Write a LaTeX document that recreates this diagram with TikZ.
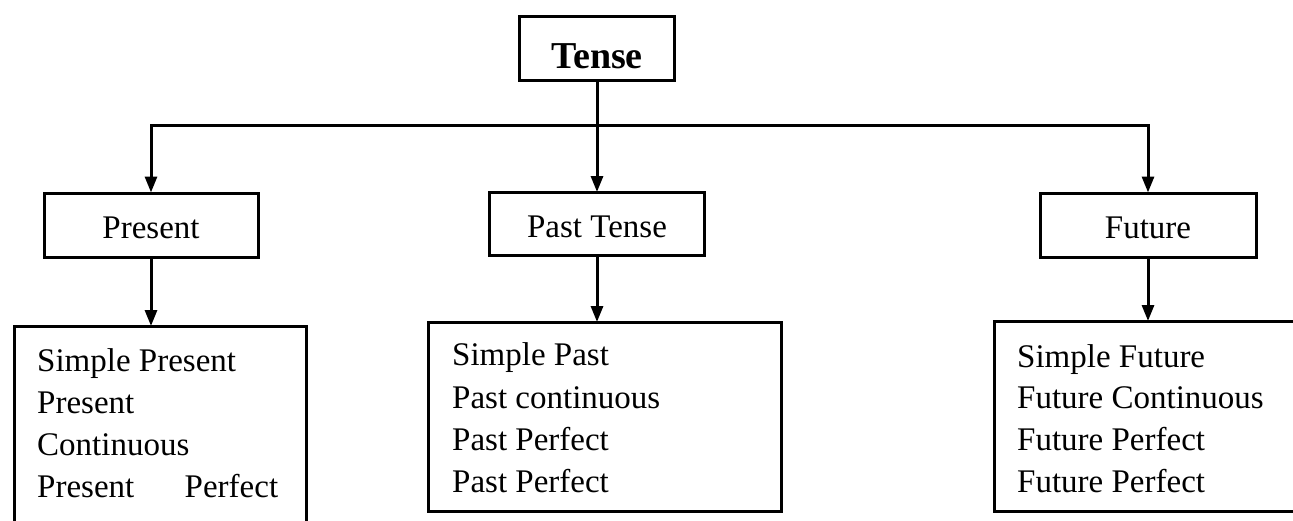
\documentclass[tikz,border=0pt]{standalone}
\usepackage{fontspec}
\setmainfont{Liberation Serif}
\usetikzlibrary{arrows.meta}

\tikzset{
  line/.style={line width=3pt},
  arr/.style={line, -{Triangle[length=16pt,width=12pt]}, shorten >=-1pt},
  box/.style={draw, line width=3pt, rectangle, inner sep=0pt, fill=none},
  label/.style={box, text height=26pt, text depth=0pt, font=\fontsize{33}{38}\selectfont},
  item/.style={anchor=base west, inner sep=0pt, font=\fontsize{33}{38}\selectfont},
}

\begin{document}
\begin{tikzpicture}[x=1pt, y=-1pt]
  \useasboundingbox (0,0) rectangle (1293,520);
  \clip (0,0) rectangle (1293,520);

  % root
  \node[box, minimum width=155pt, minimum height=64pt, text height=40pt, text depth=0pt,
        font=\fontsize{38}{44}\selectfont\bfseries] (tense) at (597,48) {Tense};

  % branch labels
  \node[label, minimum width=214pt, minimum height=64pt] (present) at (151,225) {Present};
  \node[label, minimum width=215pt, minimum height=63pt] (past) at (597,224) {Past Tense};
  \node[label, minimum width=216pt, minimum height=64pt] (future) at (1148,225) {Future};

  % list boxes
  \node[box, minimum width=292pt, minimum height=230pt, anchor=north west] (presentlist) at (13,325) {};
  \node[box, minimum width=353pt, minimum height=189pt, anchor=north west] (pastlist) at (427,321) {};
  \node[box, minimum width=320pt, minimum height=190pt, anchor=north west] (futurelist) at (993,320) {};

  % connectors
  \coordinate (bar) at (597,125);
  \draw[arr] (tense.south) -- (past.north);
  \draw[arr] (bar) -| (present.north);
  \draw[arr] (bar) -| (future.north);
  \draw[arr] (present.south) -- (present.south |- presentlist.north);
  \draw[arr] (past.south) -- (past.south |- pastlist.north);
  \draw[arr] (future.south) -- (future.south |- futurelist.north);

  % present forms
  \node[item] (p1) at (37,371) {Simple Present};
  \node[item] (p2) at (37,413) {Present};
  \node[item] (p3) at (37,455) {Continuous};
  \node[item] (p4) at (37,497) {\makebox[241pt][s]{Present Perfect}};

  % past forms
  \node[item] (q1) at (452,365) {Simple Past};
  \node[item] (q2) at (452,408) {Past continuous};
  \node[item] (q3) at (452,450) {Past Perfect};
  \node[item] (q4) at (452,492) {Past Perfect};

  % future forms
  \node[item] (f1) at (1017,367) {Simple Future};
  \node[item] (f2) at (1017,408) {Future Continuous};
  \node[item] (f3) at (1017,450) {Future Perfect};
  \node[item] (f4) at (1017,492) {Future Perfect};
\end{tikzpicture}
\end{document}
